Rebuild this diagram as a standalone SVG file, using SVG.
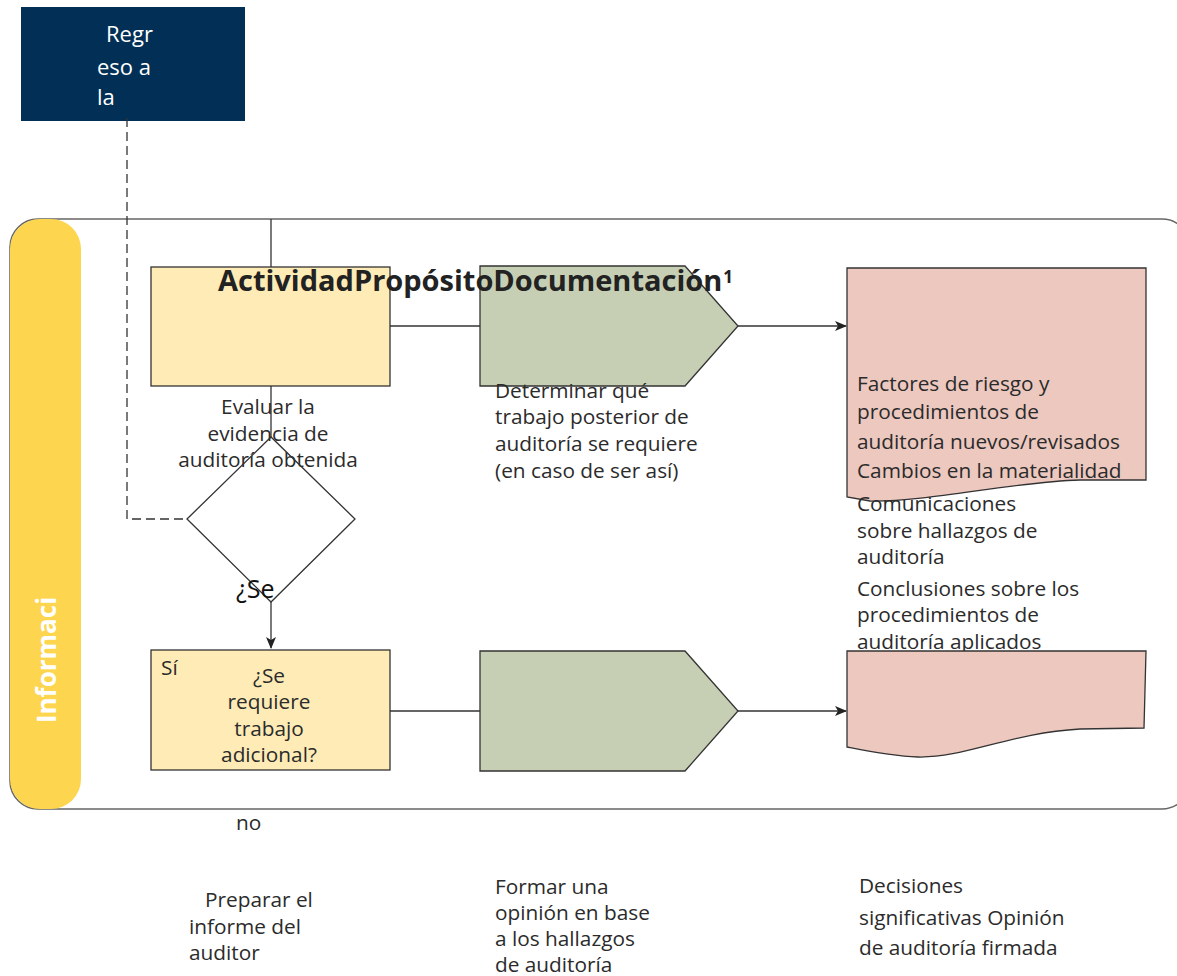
<svg xmlns="http://www.w3.org/2000/svg" width="1177" height="976" viewBox="0 0 1177 976">
<defs>
<style>
.t{font-family:"Open Sans","Noto Sans","Liberation Sans",sans-serif;font-size:20.8px;fill:#2b2b2b}
.c{text-anchor:middle}
.ln{stroke:#333;stroke-width:1.3;fill:none}
.act{fill:#feebb6;stroke:#333;stroke-width:1.3}
.pent{fill:#c6cfb4;stroke:#333;stroke-width:1.3}
.doc{fill:#ecc8bf;stroke:#333;stroke-width:1.3}
</style>
<marker id="ah" markerWidth="12" markerHeight="10" refX="11" refY="5" orient="auto" markerUnits="userSpaceOnUse">
<path d="M0,0 L12,5 L0,10 L3,5 Z" fill="#222"/>
</marker>
</defs>
<rect width="1177" height="976" fill="#fff"/>

<g id="lane">
<rect x="10" y="219" width="1180" height="590" rx="28" fill="none" stroke="#666" stroke-width="1.5"/>
<rect x="10" y="219" width="71" height="590" rx="30" fill="#fdd54f"/>
<text transform="translate(56,660) rotate(-90)" text-anchor="middle" style="font-family:'Open Sans',sans-serif;font-size:26px;font-weight:bold;fill:#fff">Informaci</text>
</g>

<g id="back">
<rect x="21" y="7" width="224" height="114" fill="#012f55"/>
<text class="t" style="fill:#fff;font-size:22px"><tspan x="106" y="42">Regr</tspan><tspan x="97" y="75">eso a</tspan><tspan x="97" y="105">la</tspan></text>
</g>

<g id="connectors">
<path class="ln" d="M127,118 V519 H187" stroke-dasharray="9,5"/>
<path class="ln" d="M271,219 V267"/>
<path class="ln" d="M271,386 V437"/>
<path class="ln" d="M271,602 V648" marker-end="url(#ah)"/>
<path class="ln" d="M390,326 H480"/>
<path class="ln" d="M738,326 H846" marker-end="url(#ah)"/>
<path class="ln" d="M390,711 H480"/>
<path class="ln" d="M738,711 H846" marker-end="url(#ah)"/>
</g>

<g id="act1">
<rect class="act" x="151" y="267" width="239" height="119"/>
</g>

<g id="eval">
<text class="t c"><tspan x="268" y="414">Evaluar la</tspan><tspan x="268" y="441">evidencia de</tspan><tspan x="268" y="467">auditoría obtenida</tspan></text>
</g>

<g id="decision">
<polygon points="187,519 271,437 355,519 271,602" fill="none" stroke="#333" stroke-width="1.3"/>
<text x="236" y="598" style="font-family:'Open Sans',sans-serif;font-size:25px;fill:#111">¿Se</text>
</g>

<g id="pent1">
<polygon class="pent" points="480,266 685,266 738,326 685,386 480,386"/>
<text class="t"><tspan x="495" y="398">Determinar qué</tspan><tspan x="495" y="424">trabajo posterior de</tspan><tspan x="495" y="451">auditoría se requiere</tspan><tspan x="495" y="478">(en caso de ser así)</tspan></text>
</g>

<g id="title">
<text x="218" y="291" style="font-family:'Open Sans',sans-serif;font-size:29px;font-weight:bold;fill:#222">ActividadPropósitoDocumentación<tspan dx="1" dy="-8" font-size="17">1</tspan></text>
</g>

<g id="doc1">
<path class="doc" d="M847,268 H1146 V480 H1080 C1010,482 930,502 870,501 L847,497 Z"/>
<text class="t"><tspan x="857" y="391">Factores de riesgo y</tspan><tspan x="857" y="419">procedimientos de</tspan><tspan x="857" y="449">auditoría nuevos/revisados</tspan><tspan x="857" y="478">Cambios en la materialidad</tspan><tspan x="857" y="511">Comunicaciones</tspan><tspan x="857" y="538">sobre hallazgos de</tspan><tspan x="857" y="564">auditoría</tspan><tspan x="857" y="596">Conclusiones sobre los</tspan><tspan x="857" y="622">procedimientos de</tspan><tspan x="857" y="649">auditoría aplicados</tspan></text>
</g>

<g id="act2">
<rect class="act" x="151" y="650" width="239" height="120"/>
<text class="t" x="161" y="675">Sí</text>
<text class="t c"><tspan x="269" y="683">¿Se</tspan><tspan x="269" y="709">requiere</tspan><tspan x="269" y="736">trabajo</tspan><tspan x="269" y="762">adicional?</tspan></text>
</g>

<g id="pent2">
<polygon class="pent" points="480,651 685,651 738,711 685,771 480,771"/>
</g>

<g id="doc2">
<path class="doc" d="M847,651 H1146 L1144,728 L1080,729 C1010,733 965,758 918,757 C890,756 862,750 847,747 Z"/>
</g>

<g id="labels">
<text class="t" x="236" y="830">no</text>
<text class="t"><tspan x="205" y="907">Preparar el</tspan><tspan x="189" y="934">informe del</tspan><tspan x="189" y="960">auditor</tspan></text>
<text class="t"><tspan x="495" y="894">Formar una</tspan><tspan x="495" y="920">opinión en base</tspan><tspan x="495" y="946">a los hallazgos</tspan><tspan x="495" y="972">de auditoría</tspan></text>
<text class="t"><tspan x="859" y="893">Decisiones</tspan><tspan x="859" y="925">significativas Opinión</tspan><tspan x="859" y="955">de auditoría firmada</tspan></text>
</g>
</svg>
